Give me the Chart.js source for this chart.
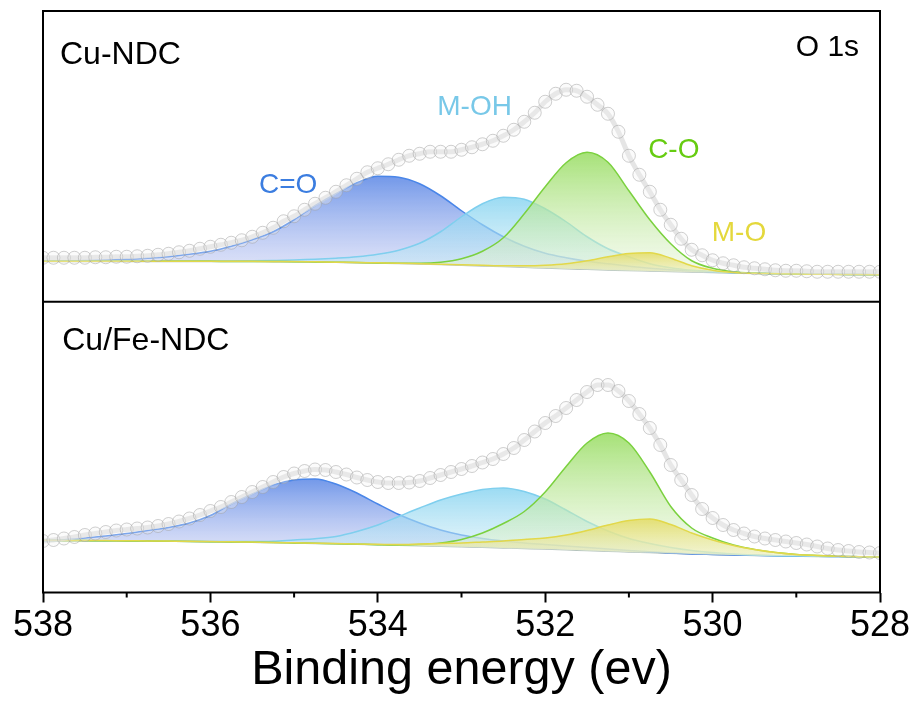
<!DOCTYPE html>
<html><head><meta charset="utf-8">
<script src="https://cdn.jsdelivr.net/npm/chart.js@4.4.1/dist/chart.umd.min.js"></script>
<style>html,body{margin:0;padding:0;background:#fff;}canvas{display:block;}</style>
</head><body>
<canvas id="c" width="916" height="701"></canvas>
<script>
// ---- Data (binding energy in eV, intensity in arbitrary units) ----
const energyFit = [538,537.75,537.5,537.25,537,536.75,536.5,536.25,536,535.75,535.5,535.25,535,534.75,534.5,534.25,534,533.75,533.5,533.25,533,532.75,532.5,532.25,532,531.75,531.5,531.25,531,530.75,530.5,530.25,530,529.75,529.5,529.25,529,528.75,528.5,528.25,528];
const energyRaw = [538,537.875,537.75,537.625,537.5,537.375,537.25,537.125,537,536.875,536.75,536.625,536.5,536.375,536.25,536.125,536,535.875,535.75,535.625,535.5,535.375,535.25,535.125,535,534.875,534.75,534.625,534.5,534.375,534.25,534.125,534,533.875,533.75,533.625,533.5,533.375,533.25,533.125,533,532.875,532.75,532.625,532.5,532.375,532.25,532.125,532,531.875,531.75,531.625,531.5,531.375,531.25,531.125,531,530.875,530.75,530.625,530.5,530.375,530.25,530.125,530,529.875,529.75,529.625,529.5,529.375,529.25,529.125,529,528.875,528.75,528.625,528.5,528.375,528.25,528.125,528];

// Cu-NDC (top panel)
const cuRaw  = [44,44,44,44,44,44.5,44.5,45,45,45.5,46,47,48,49.5,51,53,55,57,59,61.5,65,69,74,80.5,85.5,92,98,104,110,116.5,123,129.5,133.5,137.5,142,146,148,150,150,150,152,154.5,157.5,161,166,172,180,189,200,208,212,211,205,197,188,170,146,127,110,92,77,63,52,46.5,41.5,38.5,36.5,34.5,33.5,32.5,31.5,31,31,30.5,30,30,30,30,30,30,30];
const cuBase = [40.3,40.3,40.3,40.3,40.3,40.3,40.3,40.3,40.3,40.2,40.2,40.1,40,39.7,39.4,39.1,38.7,38.3,37.8,37.2,36.5,35.8,35.2,34.5,33.7,33,32.4,31.8,31.2,30.7,30.2,29.7,29.2,28.7,28.3,28,27.7,27.5,27.3,27.1,27];
const cuCdO  = [40.5,40.8,41.2,41.7,42.5,43.5,45,47.5,50.5,55.5,62,70,82,96,108,119,125.5,124.5,118,106,91,77,65,55.5,48.5,44,40.5,38,35.5,33.5,32,31,30,29.2,28.6,28.1,27.8,27.6,27.4,27.2,27.1];
const cuMOH  = [40.4,40.4,40.4,40.4,40.4,40.5,40.5,40.6,40.7,40.8,41,41.3,41.7,42.4,43.5,45,47.5,51.5,58.5,70,85,98,104.5,102.5,93,80,65,53,45,38,34,31.5,30,29,28.4,28.1,27.8,27.6,27.4,27.2,27.1];
const cuCO   = [40.4,40.4,40.4,40.4,40.4,40.4,40.4,40.4,40.4,40.3,40.3,40.2,40.1,39.8,39.5,39.2,38.8,38.6,38.5,39.5,43,50.5,64,88,115,139,149.5,139.5,111,82,58,41,33.5,30,28.7,28.2,27.85,27.6,27.4,27.2,27.1];
const cuMO   = [40.5,40.5,40.5,40.5,40.5,40.5,40.5,40.5,40.5,40.4,40.4,40.3,40.2,39.9,39.6,39.3,38.9,38.5,38,37.5,37,36.5,36,36,36.5,38,41,45,48.2,49,43.5,36,31.5,29.2,28.4,28.05,27.75,27.55,27.35,27.15,27.05];

// Cu/Fe-NDC (bottom panel)
const feRaw  = [51.5,52.5,54,55.5,57.5,59,60.5,62,63,64,65,66.5,68.5,71,74,77.5,81.5,85.5,90.5,95.5,100.5,105.5,110.5,115.5,119,121.5,123,122.5,120.5,118,115,112.5,110.5,109.5,109.5,110,111.5,114.5,117.5,120.5,123.5,126.5,130,133.5,138.5,144.5,152.5,161,169.5,176.5,184.5,192.5,200.5,207.5,207.5,201.5,191.5,178.5,164.5,147.5,127.5,112.5,97.5,83.5,74.5,67.5,62.5,59,56,54,52.5,51,49.5,48,46,44,42.5,41.5,40.5,40,39.5];
const feBase = [51.8,51.8,51.7,51.6,51.5,51.4,51.2,51,50.7,50.5,50.2,49.9,49.5,49.1,48.7,48.2,47.7,47.2,46.7,46.2,45.7,45.2,44.6,44,43.4,42.7,42,41.3,40.6,39.9,39.2,38.5,38,37.5,37.1,36.7,36.4,36.1,35.9,35.7,35.5];
const feCdO  = [52.1,52.7,54.5,56.5,59,62,65,69.5,77,88.5,98.5,107.5,112.5,113.5,108.5,99.5,88.5,78,69.5,62.5,57.5,54,51.5,49.5,48,46.5,45,43.5,42,40.7,39.5,38.6,38.05,37.55,37.15,36.75,36.45,36.15,35.95,35.75,35.55];
const feMOH  = [52.1,52,51.9,51.8,51.6,51.5,51.3,51.2,51,50.9,50.9,51.2,52.5,53.7,56,61,67.5,76,84.5,92.5,98.5,103,104.5,101,93.5,82.5,71,61.5,54,49,45,42,40,38.5,37.5,36.8,36.45,36.15,35.95,35.75,35.55];
const feCO   = [52.1,52,51.9,51.8,51.6,51.5,51.3,51.1,50.8,50.6,50.3,50,49.6,49.2,48.8,48.3,47.8,47.5,48,49.5,53,59.5,69,81,100.5,126,149.5,159.5,149.5,120.5,86,64.5,54.5,47.5,43,40,38,37,36.2,35.85,35.6];
const feMO   = [52.2,52.1,52,51.9,51.7,51.6,51.4,51.2,50.9,50.7,50.4,50.1,49.7,49.3,48.9,48.4,48.2,48,48.5,49,49.5,50.5,51.5,53,54.5,57.5,62,67.5,72,73.5,68,59.5,52.5,47,43,40,38,37,36.3,35.8,35.55];

const xTicks = [538,536,534,532,530,528];
const xMinorTicks = [537,535,533,531,529];
const xTitle = 'Binding energy (ev)';

// ---- Styling ----
const FONT = 'Liberation Sans, Arial, Helvetica, sans-serif';
const STY = {
  cdo: {line:'#4a86e8', top:'rgba(95,138,230,0.88)', bot:'rgba(205,210,244,0.55)'},
  moh: {line:'#7fcfee', top:'rgba(130,210,240,0.80)', bot:'rgba(205,235,245,0.45)'},
  co:  {line:'#7bd13f', top:'rgba(150,220,95,0.85)', bot:'rgba(232,245,220,0.45)'},
  mo:  {line:'#e2d84a', top:'rgba(228,220,100,0.85)', bot:'rgba(240,238,185,0.5)'}
};
const annotations = [
  {text:'Cu-NDC',    axis:'yTop', e:537.797, v:238,   color:'#000',    size:32, align:'left'},
  {text:'O 1s',      axis:'yTop', e:528.25,  v:246,   color:'#000',    size:30, align:'right'},
  {text:'C=O',       axis:'yTop', e:535.42,  v:109,   color:'#3b7de0', size:28, align:'left'},
  {text:'M-OH',      axis:'yTop', e:533.29,  v:187,   color:'#78c8e8', size:28, align:'left'},
  {text:'C-O',       axis:'yTop', e:530.77,  v:144,   color:'#66cc11', size:28, align:'left'},
  {text:'M-O',       axis:'yTop', e:530.01,  v:61,    color:'#e4d83c', size:28, align:'left'},
  {text:'Cu/Fe-NDC', axis:'yBot', e:537.77,  v:242.5, color:'#000',    size:32, align:'left'}
];

function pts(xs, ys){ return xs.map((x,i)=>({x:x, y:ys[i]})); }
function grad(axisId, values, topC, botC){
  return (context) => {
    const chart = context.chart;
    if (!chart.chartArea) return topC;
    const ys = chart.scales[axisId];
    const y0 = ys.getPixelForValue(Math.max.apply(null, values));
    const y1 = ys.getPixelForValue(Math.min.apply(null, values));
    const g = chart.ctx.createLinearGradient(0, y0, 0, y1 + 0.01);
    g.addColorStop(0, topC); g.addColorStop(1, botC);
    return g;
  };
}
function envelope(values, axis){
  return {data: pts(energyRaw, values), yAxisID: axis, fill:false,
    borderColor:'rgba(218,218,218,0.7)', borderWidth:5, cubicInterpolationMode:'monotone',
    pointRadius:6.5, pointStyle:'circle', pointBorderWidth:1,
    pointBorderColor:'rgba(160,160,160,0.5)', pointBackgroundColor:'rgba(242,242,242,0.3)'};
}
function comp(values, axis, st, baseIndex){
  return {data: pts(energyFit, values), yAxisID: axis, fill: baseIndex,
    borderColor: st.line, borderWidth:1.5, cubicInterpolationMode:'monotone', pointRadius:0,
    backgroundColor: grad(axis, values, st.top, st.bot)};
}
function base(values, axis){
  return {data: pts(energyFit, values), yAxisID: axis, fill:false,
    borderColor:'rgba(150,170,160,0.7)', borderWidth:1.5, cubicInterpolationMode:'monotone', pointRadius:0};
}

const datasets = [
  envelope(cuRaw,'yTop'), envelope(feRaw,'yBot'),
  comp(cuMO,'yTop',STY.mo,10), comp(feMO,'yBot',STY.mo,11),
  comp(cuCO,'yTop',STY.co,10), comp(feCO,'yBot',STY.co,11),
  comp(cuMOH,'yTop',STY.moh,10), comp(feMOH,'yBot',STY.moh,11),
  comp(cuCdO,'yTop',STY.cdo,10), comp(feCdO,'yBot',STY.cdo,11),
  base(cuBase,'yTop'), base(feBase,'yBot')
];

const framePlugin = {
  id:'frame',
  afterDraw(chart){
    const {ctx, chartArea:a, scales} = chart;
    ctx.save();
    annotations.forEach(t => {
      ctx.font = t.size + 'px ' + FONT;
      ctx.fillStyle = t.color; ctx.textAlign = t.align; ctx.textBaseline = 'alphabetic';
      ctx.fillText(t.text, scales.x.getPixelForValue(t.e), scales[t.axis].getPixelForValue(t.v));
    });
    ctx.strokeStyle = '#000'; ctx.lineWidth = 2;
    ctx.strokeRect(a.left, a.top, a.right - a.left, a.bottom - a.top);
    const sep = scales.yTop.bottom;
    ctx.beginPath(); ctx.moveTo(a.left, sep); ctx.lineTo(a.right, sep); ctx.stroke();
    xMinorTicks.forEach(v => {
      const px = scales.x.getPixelForValue(v);
      ctx.beginPath(); ctx.moveTo(px, a.bottom); ctx.lineTo(px, a.bottom + 5); ctx.stroke();
    });
    ctx.restore();
  }
};

new Chart(document.getElementById('c'), {
  type:'line',
  data:{datasets},
  options:{
    responsive:false, animation:false, events:[],
    layout:{padding:{left:43, right:36, top:11, bottom:0}},
    plugins:{legend:{display:false}, tooltip:{enabled:false}},
    scales:{
      x:{type:'linear', reverse:true, min:528, max:538,
        afterBuildTicks: s => { s.ticks = xTicks.map(v => ({value:v})); },
        afterFit: s => { s.height = 108.5; },
        ticks:{autoSkip:false, maxRotation:0, padding:2, color:'#000', font:{family:FONT, size:36}},
        grid:{display:true, drawOnChartArea:false, drawTicks:true, tickLength:10, tickWidth:2, tickColor:'#000'},
        border:{display:false},
        title:{display:true, text:xTitle, color:'#000', font:{family:FONT, size:48.5}, padding:{top:0, bottom:1}}
      },
      yTop:{type:'linear', position:'left', stack:'panels', stackWeight:1, weight:1, min:0, max:290.75,
        ticks:{display:false}, grid:{display:false, drawTicks:false}, border:{display:false},
        afterFit: s => { s.width = 0; }},
      yBot:{type:'linear', position:'left', stack:'panels', stackWeight:1, weight:0, min:0, max:290.75,
        ticks:{display:false}, grid:{display:false, drawTicks:false}, border:{display:false},
        afterFit: s => { s.width = 0; }}
    }
  },
  plugins:[framePlugin]
});
</script>
</body></html>
